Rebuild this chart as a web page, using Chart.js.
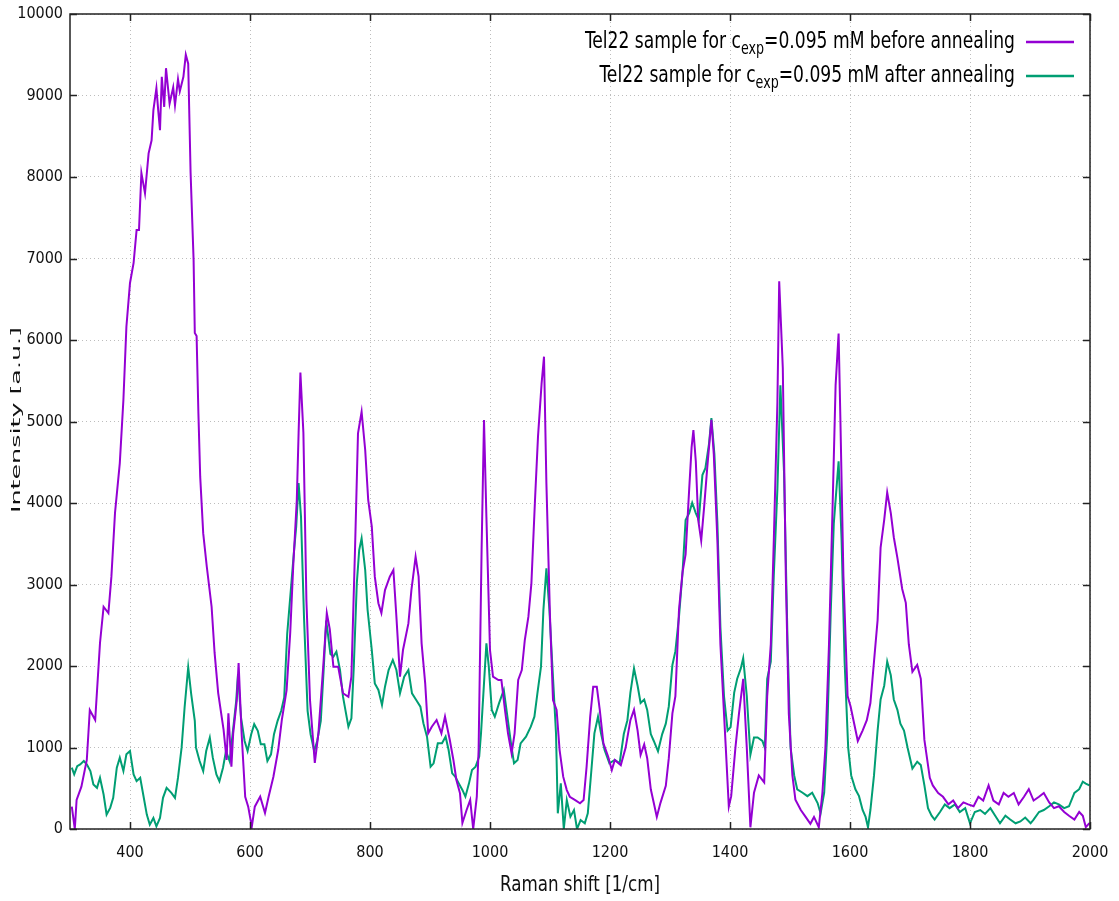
<!DOCTYPE html>
<html>
<head>
<meta charset="utf-8">
<script src="https://cdn.jsdelivr.net/npm/chart.js@4"></script>
<style>
  html, body { margin: 0; padding: 0; background: #fff; }
  #wrap { width: 1119px; height: 901px; }
</style>
</head>
<body>
<div id="wrap"><canvas id="raman-chart" width="1119" height="901"></canvas></div>
<script>
// Raman shift positions [1/cm] and intensities [a.u.]
const shiftBefore = [303, 308, 311, 319, 328, 333, 342, 350, 356, 364, 369, 375, 383, 389, 394, 400, 406, 411, 415, 419, 425, 431, 436, 439, 444, 447, 450, 453, 457, 460, 466, 472, 475, 480, 483, 489, 493, 497, 501, 506, 508, 511, 514, 517, 522, 528, 536, 541, 547, 556, 561, 564, 569, 572, 578, 581, 586, 592, 597, 603, 608, 617, 625, 631, 639, 647, 653, 661, 667, 672, 678, 681, 684, 689, 694, 700, 708, 714, 722, 728, 733, 739, 747, 755, 764, 769, 775, 780, 786, 792, 797, 803, 808, 814, 819, 825, 833, 839, 844, 850, 855, 864, 869, 876, 881, 886, 892, 897, 903, 911, 919, 925, 933, 939, 944, 950, 954, 961, 967, 972, 978, 981, 986, 990, 994, 1000, 1005, 1014, 1019, 1025, 1030, 1036, 1041, 1047, 1053, 1058, 1064, 1069, 1075, 1080, 1086, 1090, 1094, 1100, 1105, 1111, 1116, 1122, 1128, 1133, 1142, 1150, 1156, 1161, 1167, 1172, 1178, 1183, 1189, 1197, 1203, 1208, 1218, 1226, 1234, 1240, 1246, 1251, 1257, 1262, 1268, 1273, 1278, 1284, 1293, 1298, 1304, 1309, 1315, 1321, 1326, 1332, 1336, 1339, 1343, 1347, 1352, 1357, 1362, 1369, 1373, 1379, 1384, 1393, 1398, 1402, 1409, 1415, 1422, 1428, 1434, 1440, 1448, 1457, 1462, 1468, 1473, 1479, 1482, 1488, 1493, 1498, 1504, 1509, 1518, 1526, 1534, 1540, 1548, 1554, 1559, 1565, 1571, 1576, 1581, 1584, 1589, 1596, 1601, 1607, 1613, 1621, 1628, 1634, 1640, 1646, 1651, 1657, 1662, 1668, 1673, 1679, 1687, 1693, 1698, 1704, 1712, 1718, 1724, 1733, 1738, 1747, 1755, 1764, 1772, 1780, 1789, 1797, 1806, 1814, 1822, 1831, 1839, 1848, 1856, 1864, 1873, 1881, 1890, 1898, 1906, 1915, 1923, 1932, 1940, 1948, 1957, 1965, 1974, 1982, 1988, 1993, 1999];
const intensityBefore = [274, 0, 356, 519, 847, 1460, 1337, 2282, 2727, 2650, 3096, 3877, 4490, 5264, 6163, 6700, 6945, 7350, 7350, 8050, 7800, 8290, 8450, 8820, 9090, 8820, 8575, 9230, 8860, 9335, 8900, 9100, 8880, 9200, 9050, 9230, 9500, 9390, 8050, 6980, 6085, 6050, 5100, 4323, 3630, 3218, 2727, 2160, 1668, 1215, 847, 1420, 765, 1174, 1580, 2037, 1174, 396, 274, 28, 274, 397, 196, 396, 642, 969, 1337, 1705, 2404, 3218, 4037, 4858, 5600, 4858, 2810, 1583, 810, 1174, 1991, 2650, 2450, 1991, 1991, 1666, 1623, 1869, 3423, 4855, 5120, 4650, 4037, 3709, 3096, 2770, 2650, 2932, 3096, 3178, 2605, 1869, 2196, 2523, 2932, 3341, 3096, 2278, 1786, 1174, 1255, 1337, 1174, 1378, 1092, 847, 601, 438, 74, 233, 356, 0, 396, 969, 3423, 5018, 3832, 2196, 1869, 1828, 1828, 1460, 1174, 928, 1174, 1828, 1950, 2319, 2605, 3014, 4037, 4814, 5468, 5795, 4241, 2605, 1583, 1460, 969, 642, 478, 396, 355, 315, 356, 764, 1378, 1746, 1746, 1460, 1051, 887, 724, 847, 784, 996, 1335, 1462, 1208, 911, 1038, 869, 487, 318, 148, 318, 530, 869, 1419, 1631, 2690, 3157, 3368, 4173, 4682, 4894, 4512, 3792, 3538, 3962, 4428, 5021, 4597, 3538, 2267, 996, 275, 403, 996, 1419, 1843, 996, 21, 445, 657, 572, 1631, 2267, 3538, 5233, 6720, 5656, 3114, 1419, 657, 360, 233, 148, 64, 148, 21, 445, 996, 2267, 3962, 5445, 6080, 5021, 3114, 1631, 1504, 1292, 1080, 1208, 1335, 1546, 2055, 2563, 3453, 3792, 4131, 3877, 3580, 3326, 2945, 2775, 2267, 1928, 2013, 1843, 1093, 628, 535, 442, 395, 302, 349, 256, 326, 302, 279, 395, 349, 535, 349, 302, 442, 395, 442, 302, 395, 488, 349, 395, 442, 326, 256, 279, 209, 163, 116, 209, 163, 23, 70];

const shiftAfter = [303, 307, 312, 317, 323, 328, 334, 339, 345, 350, 356, 361, 367, 372, 378, 383, 389, 394, 400, 406, 411, 417, 422, 428, 433, 439, 444, 450, 455, 461, 469, 475, 480, 486, 491, 497, 502, 508, 510, 516, 522, 527, 533, 538, 544, 549, 555, 560, 566, 571, 577, 580, 585, 591, 596, 602, 607, 613, 618, 624, 629, 635, 640, 646, 652, 657, 662, 668, 673, 677, 681, 685, 690, 696, 701, 707, 712, 718, 723, 727, 734, 739, 744, 750, 755, 764, 769, 773, 778, 782, 786, 792, 796, 803, 808, 814, 820, 825, 831, 838, 844, 850, 857, 864, 870, 877, 884, 889, 895, 901, 906, 913, 920, 926, 931, 937, 942, 948, 954, 959, 965, 970, 976, 982, 985, 990, 994, 998, 1003, 1008, 1015, 1023, 1029, 1035, 1040, 1046, 1051, 1060, 1068, 1074, 1079, 1085, 1089, 1094, 1099, 1104, 1110, 1113, 1118, 1123, 1128, 1134, 1140, 1145, 1151, 1158, 1163, 1169, 1174, 1180, 1185, 1191, 1199, 1208, 1216, 1223, 1229, 1234, 1240, 1246, 1251, 1257, 1262, 1268, 1273, 1280, 1287, 1293, 1298, 1304, 1309, 1315, 1321, 1326, 1332, 1337, 1343, 1348, 1354, 1359, 1365, 1369, 1374, 1379, 1384, 1390, 1396, 1401, 1407, 1412, 1418, 1422, 1428, 1434, 1440, 1446, 1454, 1458, 1462, 1468, 1473, 1479, 1484, 1490, 1496, 1501, 1507, 1512, 1521, 1529, 1537, 1546, 1551, 1557, 1562, 1568, 1573, 1581, 1586, 1591, 1597, 1602, 1609, 1615, 1621, 1626, 1630, 1634, 1640, 1646, 1651, 1657, 1662, 1668, 1673, 1679, 1684, 1690, 1696, 1704, 1712, 1718, 1724, 1730, 1736, 1741, 1750, 1758, 1766, 1775, 1783, 1792, 1800, 1808, 1817, 1825, 1834, 1842, 1850, 1859, 1867, 1876, 1884, 1892, 1901, 1906, 1915, 1923, 1932, 1940, 1948, 1957, 1965, 1974, 1982, 1988, 1993, 1999];
const intensityAfter = [752, 670, 772, 793, 834, 793, 711, 546, 505, 629, 423, 177, 259, 382, 752, 875, 711, 916, 957, 670, 587, 629, 423, 177, 53, 136, 33, 136, 382, 505, 444, 382, 629, 998, 1491, 1984, 1655, 1327, 998, 834, 711, 957, 1121, 875, 670, 587, 752, 957, 834, 1163, 1573, 1902, 1368, 1080, 957, 1163, 1286, 1204, 1039, 1039, 834, 916, 1163, 1327, 1450, 1614, 2395, 2929, 3381, 3710, 4244, 3833, 2600, 1450, 1163, 957, 1080, 1327, 1984, 2559, 2148, 2115, 2176, 1951, 1624, 1256, 1358, 1992, 3014, 3423, 3566, 3178, 2687, 2196, 1787, 1706, 1521, 1746, 1951, 2074, 1951, 1665, 1869, 1951, 1665, 1583, 1501, 1297, 1133, 765, 806, 1051, 1051, 1133, 969, 683, 642, 560, 479, 397, 560, 724, 765, 888, 1174, 1787, 2278, 1992, 1460, 1378, 1542, 1706, 1378, 1051, 806, 847, 1051, 1133, 1256, 1378, 1665, 1992, 2687, 3198, 2687, 1992, 1174, 192, 560, 0, 356, 151, 233, 0, 110, 70, 192, 724, 1174, 1378, 1174, 969, 806, 847, 806, 1165, 1335, 1674, 1970, 1758, 1547, 1589, 1462, 1165, 1080, 953, 1165, 1292, 1504, 2013, 2182, 2606, 3157, 3792, 3877, 4004, 3877, 3792, 4343, 4428, 4724, 5042, 4597, 3750, 2479, 1631, 1208, 1250, 1674, 1843, 1970, 2097, 1631, 911, 1123, 1123, 1080, 996, 1843, 2055, 3114, 4173, 5445, 4385, 2267, 996, 657, 487, 445, 403, 445, 318, 191, 445, 1165, 2690, 3750, 4512, 3538, 2055, 996, 657, 487, 403, 233, 148, 21, 233, 657, 1208, 1589, 1758, 2055, 1886, 1589, 1462, 1292, 1208, 996, 742, 826, 784, 535, 256, 163, 116, 209, 302, 256, 302, 209, 256, 70, 209, 233, 186, 256, 163, 70, 163, 116, 70, 93, 140, 70, 116, 209, 233, 279, 326, 302, 256, 279, 442, 488, 581, 558, 535];

const xTickValues = [400, 600, 800, 1000, 1200, 1400, 1600, 1800, 2000];
const yTickValues = [0, 1000, 2000, 3000, 4000, 5000, 6000, 7000, 8000, 9000, 10000];

const seriesLabels = ['before annealing', 'after annealing'];
const seriesColors = ['#9400d3', '#009e73'];

const FONT = "'DejaVu Sans Condensed', 'DejaVu Sans', sans-serif";

function toPoints(xs, ys) {
  return xs.map((x, i) => ({ x: x, y: ys[i] }));
}

// draws text centred at (cx, cy), squeezed/stretched to a given width
function fitText(ctx, text, font, cx, cy, width, angle) {
  ctx.save();
  ctx.font = font;
  ctx.textAlign = 'center';
  ctx.textBaseline = 'middle';
  const w = ctx.measureText(text).width;
  ctx.translate(cx, cy);
  ctx.rotate(angle);
  ctx.scale(width / w, 1);
  ctx.fillText(text, 0, 0);
  ctx.restore();
}

// gnuplot style: closed frame + inward ticks on all four sides, axis titles
const framePlugin = {
  id: 'frame',
  afterDraw(chart) {
    const { ctx, chartArea: a, scales } = chart;
    ctx.save();
    ctx.strokeStyle = '#222';
    ctx.lineWidth = 1.5;
    ctx.strokeRect(a.left, a.top, a.right - a.left, a.bottom - a.top);
    ctx.beginPath();
    xTickValues.forEach(v => {
      const px = Math.round(scales.x.getPixelForValue(v)) + 0.5;
      ctx.moveTo(px, a.bottom); ctx.lineTo(px, a.bottom - 7);
      ctx.moveTo(px, a.top); ctx.lineTo(px, a.top + 7);
    });
    yTickValues.forEach(v => {
      const py = Math.round(scales.y.getPixelForValue(v)) + 0.5;
      ctx.moveTo(a.left, py); ctx.lineTo(a.left + 7, py);
      ctx.moveTo(a.right, py); ctx.lineTo(a.right - 7, py);
    });
    ctx.stroke();
    ctx.fillStyle = '#111';
    fitText(ctx, 'Intensity [a.u.]', "13px 'DejaVu Sans', sans-serif", 17, 420, 186, -Math.PI / 2);
    fitText(ctx, 'Raman shift [1/cm]', '22px ' + FONT, 580, 885, 160, 0);
    ctx.restore();
  }
};

// legend with the subscript in c_exp
const legendPlugin = {
  id: 'subLegend',
  afterDraw(chart) {
    const ctx = chart.ctx;
    const textRight = 1015;
    const rows = [42, 76];
    ctx.save();
    ctx.fillStyle = '#000';
    ctx.textBaseline = 'middle';
    ctx.textAlign = 'left';
    const rowParts = rows.map((y, i) => [
      { t: 'Tel22 sample for c', size: 23, dy: 0 },
      { t: 'exp', size: 17, dy: 8 },
      { t: '=0.095 mM ' + seriesLabels[i], size: 23, dy: 0 }
    ]);
    const widths = rowParts.map(parts => {
      let total = 0;
      parts.forEach(p => { ctx.font = p.size + 'px ' + FONT; p.w = ctx.measureText(p.t).width; total += p.w; });
      return total;
    });
    const k = Math.min(1, 430 / widths[0]);
    rows.forEach((y, i) => {
      ctx.save();
      ctx.translate(textRight - widths[i] * k, 0);
      ctx.scale(k, 1);
      let x = 0;
      rowParts[i].forEach(p => {
        ctx.font = p.size + 'px ' + FONT;
        ctx.fillText(p.t, x, y + p.dy);
        x += p.w;
      });
      ctx.restore();
      ctx.strokeStyle = seriesColors[i];
      ctx.lineWidth = 2.5;
      ctx.beginPath();
      ctx.moveTo(1026, y);
      ctx.lineTo(1074, y);
      ctx.stroke();
    });
    ctx.restore();
  }
};

new Chart(document.getElementById('raman-chart').getContext('2d'), {
  type: 'line',
  data: {
    datasets: [
      {
        label: seriesLabels[0],
        data: toPoints(shiftBefore, intensityBefore),
        borderColor: seriesColors[0],
        borderWidth: 2,
        pointRadius: 0,
        tension: 0,
        fill: false
      },
      {
        label: seriesLabels[1],
        data: toPoints(shiftAfter, intensityAfter),
        borderColor: seriesColors[1],
        borderWidth: 2,
        pointRadius: 0,
        tension: 0,
        fill: false
      }
    ]
  },
  options: {
    responsive: false,
    animation: false,
    layout: { padding: { top: 14, right: 29, left: 0, bottom: 0 } },
    plugins: {
      legend: { display: false },
      tooltip: { enabled: false }
    },
    scales: {
      x: {
        type: 'linear',
        min: 300,
        max: 2000,
        afterBuildTicks: s => { s.ticks = xTickValues.map(v => ({ value: v })); },
        afterFit: s => { s.height = 72; s.paddingLeft = 0; s.paddingRight = 0; },
        border: { display: false, dash: [1, 3] },
        grid: { color: '#bdbdbd', tickLength: 0, lineWidth: 1 },
        ticks: { color: '#111', font: { family: FONT, size: 16 }, padding: 14, maxRotation: 0, callback: v => String(v) }
      },
      y: {
        min: 0,
        max: 10000,
        afterBuildTicks: s => { s.ticks = yTickValues.map(v => ({ value: v })); },
        afterFit: s => { s.width = 70; s.paddingTop = 0; s.paddingBottom = 0; },
        border: { display: false, dash: [1, 3] },
        grid: { color: '#bdbdbd', tickLength: 0, lineWidth: 1 },
        ticks: { color: '#111', font: { family: FONT, size: 16 }, padding: 7, callback: v => String(v) }
      }
    }
  },
  plugins: [framePlugin, legendPlugin]
});
</script>
</body>
</html>
